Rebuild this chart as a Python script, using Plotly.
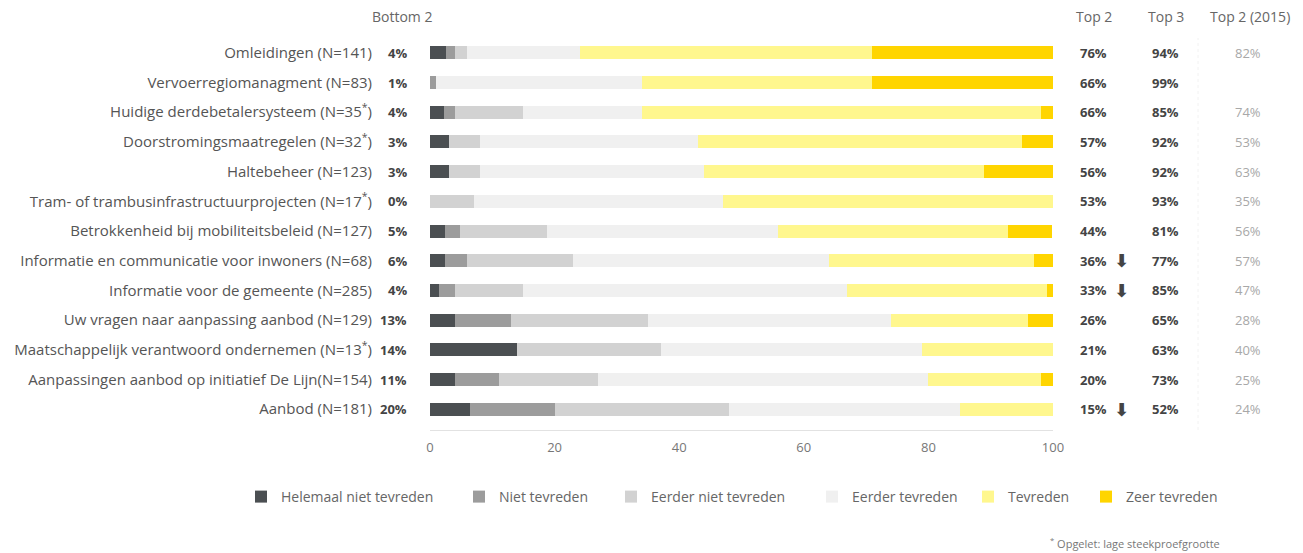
import plotly.graph_objects as go

categories = [
    "Omleidingen (N=141)",
    "Vervoerregiomanagment (N=83)",
    "Huidige derdebetalersysteem (N=35<sup>*</sup>)",
    "Doorstromingsmaatregelen (N=32<sup>*</sup>)",
    "Haltebeheer (N=123)",
    "Tram- of trambusinfrastructuurprojecten (N=17<sup>*</sup>)",
    "Betrokkenheid bij mobiliteitsbeleid (N=127)",
    "Informatie en communicatie voor inwoners (N=68)",
    "Informatie voor de gemeente (N=285)",
    "Uw vragen naar aanpassing aanbod (N=129)",
    "Maatschappelijk verantwoord ondernemen (N=13<sup>*</sup>)",
    "Aanpassingen aanbod op initiatief De Lijn(N=154)",
    "Aanbod (N=181)",
]

helemaal_niet = [2.5, 0, 2.2, 3, 3, 0, 2.4, 2.4, 1.5, 4, 14, 4, 6.4]
niet_tevreden = [1.5, 1, 1.8, 0, 0, 0, 2.4, 3.6, 2.5, 9, 0, 7, 13.6]
eerder_niet = [2, 0, 11, 5, 5, 7, 14, 17, 11, 22, 23, 16, 28]
eerder_tevreden = [18, 33, 19, 35, 36, 40, 37, 41, 52, 39, 42, 53, 37]
tevreden = [47, 37, 64, 52, 45, 53, 37, 33, 32, 22, 21, 18, 15]
zeer_tevreden = [29, 29, 2, 5, 11, 0, 7, 3, 1, 4, 0, 2, 0]

bottom2 = ["4%", "1%", "4%", "3%", "3%", "0%", "5%", "6%", "4%", "13%", "14%", "11%", "20%"]
top2 = ["76%", "66%", "66%", "57%", "56%", "53%", "44%", "36%", "33%", "26%", "21%", "20%", "15%"]
top3 = ["94%", "99%", "85%", "92%", "92%", "93%", "81%", "77%", "85%", "65%", "63%", "73%", "52%"]
top2_2015 = ["82%", "", "74%", "53%", "63%", "35%", "56%", "57%", "47%", "28%", "40%", "25%", "24%"]
significant_drop = [False, False, False, False, False, False, False, True, True, False, False, False, True]

series_names = ["Helemaal niet tevreden", "Niet tevreden", "Eerder niet tevreden",
                "Eerder tevreden", "Tevreden", "Zeer tevreden"]
series_values = [helemaal_niet, niet_tevreden, eerder_niet, eerder_tevreden, tevreden, zeer_tevreden]
series_colors = ["#4b4f52", "#9c9c9c", "#d2d2d2", "#f0f0f0", "#fff78e", "#ffd500"]

FONT = "Open Sans"
W, H = 1303, 553
L, R, T, B = 430, 250, 38, 123
PW, PH = W - L - R, H - T - B


def px_to_paper_x(px):
    return (px - L) / PW


def px_to_paper_y(py):
    return (H - B - py) / PH


fig = go.Figure()
legend_ids = ["legend", "legend2", "legend3", "legend4", "legend5", "legend6"]
legend_px = [241, 459, 611, 812, 968, 1086]

for name, vals, col, lid in zip(series_names, series_values, series_colors, legend_ids):
    fig.add_trace(go.Bar(
        y=categories, x=vals, name=name, orientation="h",
        marker=dict(color=col, line=dict(width=0)),
        legend=lid, hoverinfo="x+name",
    ))

annotations = []
hdr_y = px_to_paper_y(17)
annotations.append(dict(text="Bottom 2", xref="paper", yref="paper", x=px_to_paper_x(434), y=hdr_y,
                        xanchor="right", yanchor="middle", showarrow=False,
                        font=dict(family=FONT, size=14, color="#666")))
for txt, xp in [("Top 2", 1094), ("Top 3", 1166), ("Top 2 (2015)", 1250)]:
    annotations.append(dict(text=txt, xref="paper", yref="paper", x=px_to_paper_x(xp), y=hdr_y,
                            xanchor="center", yanchor="middle", showarrow=False,
                            font=dict(family=FONT, size=14, color="#666")))

for i, cat in enumerate(categories):
    annotations.append(dict(text="<b>" + bottom2[i] + "</b>", xref="paper", yref="y", x=px_to_paper_x(409), y=cat,
                            xanchor="right", yanchor="middle", showarrow=False,
                            font=dict(family=FONT, size=13, color="#444")))
    annotations.append(dict(text="<b>" + top2[i] + "</b>", xref="paper", yref="y", x=px_to_paper_x(1078), y=cat,
                            xanchor="left", yanchor="middle", showarrow=False,
                            font=dict(family=FONT, size=13, color="#444")))
    if significant_drop[i]:
        annotations.append(dict(text="<b>⬇</b>", xref="paper", yref="y", x=px_to_paper_x(1121), y=cat,
                                xanchor="center", yanchor="middle", showarrow=False,
                                font=dict(family="DejaVu Sans", size=18, color="#444")))
    annotations.append(dict(text="<b>" + top3[i] + "</b>", xref="paper", yref="y", x=px_to_paper_x(1165), y=cat,
                            xanchor="center", yanchor="middle", showarrow=False,
                            font=dict(family=FONT, size=13, color="#444")))
    if top2_2015[i]:
        annotations.append(dict(text=top2_2015[i], xref="paper", yref="y", x=px_to_paper_x(1248), y=cat,
                                xanchor="center", yanchor="middle", showarrow=False,
                                font=dict(family=FONT, size=13, color="#a8a8a8")))

annotations.append(dict(text="<sup>*</sup> Opgelet: lage steekproefgrootte", xref="paper", yref="paper",
                        x=px_to_paper_x(1222), y=px_to_paper_y(543),
                        xanchor="right", yanchor="middle", showarrow=False,
                        font=dict(family=FONT, size=11, color="#777")))

layout_legends = {}
for lid, px in zip(legend_ids, legend_px):
    layout_legends[lid] = dict(
        x=px / W, y=1 - 497 / H, xref="container", yref="container",
        xanchor="left", yanchor="middle", orientation="h",
        font=dict(family=FONT, size=14, color="#666"),
        bgcolor="rgba(0,0,0,0)", borderwidth=0, itemwidth=30,
    )

fig.update_layout(
    width=W, height=H,
    margin=dict(l=L, r=R, t=T, b=B),
    paper_bgcolor="white", plot_bgcolor="white",
    barmode="stack", bargap=0.56,
    font=dict(family=FONT, size=12, color="#666"),
    showlegend=True,
    annotations=annotations,
    shapes=[dict(type="line", xref="paper", yref="paper", x0=px_to_paper_x(1198), x1=px_to_paper_x(1198),
                 y0=0, y1=1, line=dict(color="#f2f2f2", width=1, dash="dot"))],
    xaxis=dict(range=[0, 100], tickvals=[0, 20, 40, 60, 80, 100], showgrid=False, zeroline=False,
               showline=True, linecolor="#e2e2e2", linewidth=1,
               ticks="outside", ticklen=5, tickcolor="rgba(0,0,0,0)",
               tickfont=dict(family=FONT, size=13, color="#777"), fixedrange=True),
    yaxis=dict(categoryorder="array", categoryarray=categories, range=[12.7, -0.5],
               showgrid=False, zeroline=False, showline=False, ticks="",
               ticklabelstandoff=57,
               tickfont=dict(family=FONT, size=15, color="#555"), fixedrange=True),
    **layout_legends,
)

fig.write_html("out.html")
